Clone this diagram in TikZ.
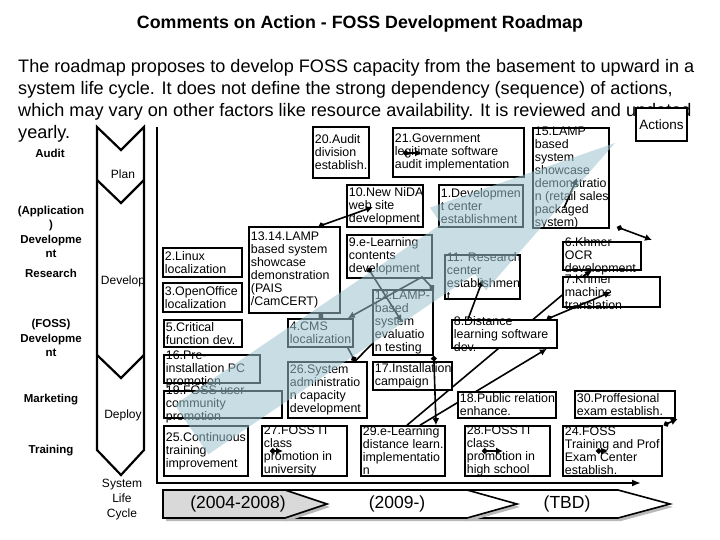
\documentclass[tikz,border=0pt]{standalone}
\usepackage{fontspec}
\setmainfont{Liberation Sans}
\usepackage{tikz}
\usetikzlibrary{arrows.meta,backgrounds}
\definecolor{band}{HTML}{9CC3CE}
\definecolor{eragray}{HTML}{D9D9D9}
\tikzset{
  actbox/.style={draw,fill=white,line width=1.6pt,inner sep=0pt},
  acttext/.style={anchor=west,align=left,inner xsep=2.5pt,inner ysep=0pt,font=\fontsize{12.4}{13}\selectfont},
  side/.style={font=\bfseries\fontsize{11.5}{14.5}\selectfont,align=center},
  phase/.style={font=\fontsize{12}{15}\selectfont,align=center},
  link/.style={line width=1.6pt,{Circle[length=5.5pt]}-{Latex[length=7pt,width=7pt]}},
  tip/.style={line width=1.6pt,-{Latex[length=7pt,width=7pt]}},
  dotstart/.style={line width=1.6pt,{Circle[length=5.5pt]}-},
  dotend/.style={line width=1.6pt,-{Circle[length=5.5pt]}},
  tie/.style={line width=1.6pt}
}
\newcommand{\actbox}[6]{%
  \node[actbox,minimum width={(#4-#2)*1pt},minimum height={(#5-#3)*1pt}] (#1) at ({(#2+#4)/2},{(#3+#5)/2}) {};
  \node[acttext] at (#1.west) {#6};}
\newcommand{\era}[4]{%
  \fill[gray!55] (#1+3,493) -- (#2+3,493) -- (#3+3,507) -- (#2+3,521) -- (#1+3,521) -- cycle;
  \draw[line width=1.6pt,fill=#4] (#1,490) -- (#2,490) -- (#3,504) -- (#2,518) -- (#1,518) -- cycle;}

\begin{document}
\begin{tikzpicture}[x=1pt,y=-1pt,>=Latex]
  \useasboundingbox (0,0) rectangle (720,540);
  \node[font=\bfseries\fontsize{17.8}{20}\selectfont] (title) at (360,24) {Comments on Action - FOSS Development Roadmap};
  \node[anchor=north west,inner sep=0pt,align=left,font=\fontsize{18.1}{22}\selectfont] (intro) at (18,59)
    {The roadmap proposes to develop FOSS capacity from the basement to upward in a\\
     system life cycle. It does not define the strong dependency (sequence) of actions,\\
     which may vary on other factors like resource availability. It is reviewed and updated\\
     yearly.};
  \node[draw,fill=white,line width=1.5pt,minimum width=51pt,minimum height=33pt,inner sep=0pt,
    font=\fontsize{13.5}{16}\selectfont] (actions) at (661.5,124.5) {Actions};

  % left side
  \node[side] (audit) at (50,153) {Audit};
  \node[side] (appdev) at (51,232) {(Application\\)\\Developme\\nt};
  \node[side] (research) at (51,273) {Research};
  \node[side] (fossdev) at (51,338) {(FOSS)\\Developme\\nt};
  \node[side] (marketing) at (51,400) {Marketing};
  \node[side] (training) at (51,451) {Training};

  \draw[line width=2.2pt] (97,127) -- (97,450) -- (121,475) -- (144,450) -- (144,127) -- (121,150) -- cycle;
  \foreach \y in {180,355}
    \draw[line width=2.2pt] (97,\y) -- (121,\y+23) -- (144,\y);
  \node[phase] (plan) at (123,174) {Plan};
  \node[phase] (develop) at (123,281) {Develop};
  \node[phase] (deploy) at (123,415) {Deploy};
  \node[phase] (cycle) at (122,500) {System\\Life\\Cycle};

  \coordinate (axtop) at (157,127);
  \coordinate (axend) at (641,483);
  \draw[line width=1.8pt,-{Latex[length=9pt,width=7pt]}] (axtop) |- (axend);

  % actions
  \actbox{b20}{313}{127}{369}{178}{20.Audit\\division\\establish.}
  \actbox{b21}{393}{128}{524}{177}{21.Government\\legitimate software\\audit implementation}
  \actbox{b15}{533}{128}{609}{228}{15.LAMP\\based\\system\\showcase\\demonstratio\\n (retail sales\\packaged\\system)}
  \actbox{b10}{347}{185}{423}{227}{10.New NiDA\\web site\\development}
  \actbox{b1}{439}{185}{523}{227}{1.Developmen\\t center\\establishment}
  \actbox{b13}{249}{227}{340}{313}{13.14.LAMP\\based system\\showcase\\demonstration\\(PAIS\\/CamCERT)}
  \actbox{b9}{347}{235}{432}{278}{9.e-Learning\\contents\\development}
  \actbox{b2}{163}{248}{242}{277}{2.Linux\\localization}
  \actbox{b3}{163}{283}{242}{312}{3.OpenOffice\\localization}
  \actbox{b11}{445}{255}{520}{299}{11. Research\\center\\establishmen\\t}
  \actbox{b6}{563}{242}{641}{270}{6.Khmer\\OCR\\development}
  \actbox{b7}{563}{277}{660}{307}{7.Khmer\\machine\\translation}
  \actbox{b12}{373}{290}{433}{355}{12.LAMP-\\based\\system\\evaluatio\\n testing}
  \actbox{b4}{288}{319}{353}{347}{4.CMS\\localization}
  \actbox{b5}{164}{320}{242}{347}{5.Critical\\function dev.}
  \actbox{b8}{452}{320}{557}{348}{8.Distance\\learning software\\dev.}
  \actbox{b16}{164}{355}{260}{383}{16.Pre-\\installation PC\\promotion}
  \actbox{b26}{288}{362}{367}{418}{26.System\\administratio\\n capacity\\development}
  \actbox{b17}{373}{362}{452}{390}{17.Installation\\campaign}
  \actbox{b19}{164}{391}{282}{418}{19.FOSS user\\community\\promotion}
  \actbox{b18}{458}{392}{556}{418}{18.Public relation\\enhance.}
  \actbox{b30}{575}{391}{675}{418}{30.Proffesional\\exam establish.}
  \actbox{b25}{164}{426}{248}{476}{25.Continuous\\training\\improvement}
  \actbox{b27}{262}{426}{347}{476}{27.FOSS IT\\class\\promotion in\\university}
  \actbox{b29}{361}{426}{445}{476}{29.e-Learning\\distance learn.\\implementatio\\n}
  \actbox{b28}{465}{426}{550}{476}{28.FOSS IT\\class\\promotion in\\high school}
  \actbox{b24}{563}{426}{662}{476}{24.FOSS\\Training and Prof\\Exam Center\\establish.}

  % links
  \coordinate (e10) at (373,207);
  \coordinate (s21) at (403,153); \coordinate (e21) at (422,153);
  \coordinate (s9) at (368,268);  \coordinate (e12) at (402,322);
  \coordinate (k12) at (422,277);
  \coordinate (e11) at (483,279);
  \coordinate (e7) at (611,292);
  \coordinate (s15) at (617,227); \coordinate (e15) at (652,240);
  \coordinate (s15i) at (564,208); \coordinate (e15i) at (577,178);
  \coordinate (s27) at (270,451); \coordinate (e27) at (283,451);
  \coordinate (s28) at (482,451); \coordinate (e28) at (503,451);
  \coordinate (s24) at (596,451); \coordinate (e24) at (608,451);

  \begin{scope}[on background layer]
    \draw[tie] ([xshift=4pt]b29.north) -- ([yshift=-3pt]b7.west);
    \draw[tip] ([xshift=17pt]b29.north) -- ([xshift=-11pt]b8.south east);
  \end{scope}
  \draw[link] ([xshift=24.5pt]b13.north) -- (e10);
  \draw[link] (s21) -- (e21);
  \draw[link] (s9) -- (e12);
  \draw[link] (b12.north east) -- (k12) -- ([xshift=-6pt]b4.north east);
  \draw[dotstart] ([xshift=24.5pt]b13.south) -- ([xshift=2.5pt]b4.north);
  \draw[dotend] ([xshift=-6pt]b4.south east) -- ([xshift=27.5pt]b26.north);
  \draw[tie] ([yshift=12pt]b12.south west) -- ([xshift=27.5pt]b26.north);
  \draw[link] (b12.south east) -- ([xshift=33pt]b29.north);
  \draw[link] ([xshift=-11pt]b8.north east) -- (e7);
  \draw[tip] ([xshift=-36.5pt]b8.north) -- (e11);
  \draw[tip] ([xshift=-28.5pt]b7.north) -- ([xshift=-10pt]b6.south);
  \draw[link] (s15) -- (e15);
  \draw[tip] (s15i) -- (e15i);
  \draw[link] (s27) -- (e27);
  \draw[link] (s28) -- (e28);
  \draw[link] (s24) -- (e24);
  \draw[link] ([xshift=1pt]b24.north east) -- ([xshift=2pt]b30.south east);

  % eras
  \era{460}{618}{670}{white}
  \era{280}{467}{517}{white}
  \era{163}{285}{327}{eragray}
  \node[font=\fontsize{17.5}{20}\selectfont] (era1) at (238,504) {(2004-2008)};
  \node[font=\fontsize{17.5}{20}\selectfont] (era2) at (397,504) {(2009-)};
  \node[font=\fontsize{17.5}{20}\selectfont] (era3) at (567,504) {(TBD)};

  % growth arrow
  \fill[band,opacity=0.55] (174.7,404.7) -- (441.2,224.2) -- (430,207.6) -- (615,143)
    -- (486,290.4) -- (474.8,273.8) -- (208.3,454.3) -- cycle;
\end{tikzpicture}
\end{document}
